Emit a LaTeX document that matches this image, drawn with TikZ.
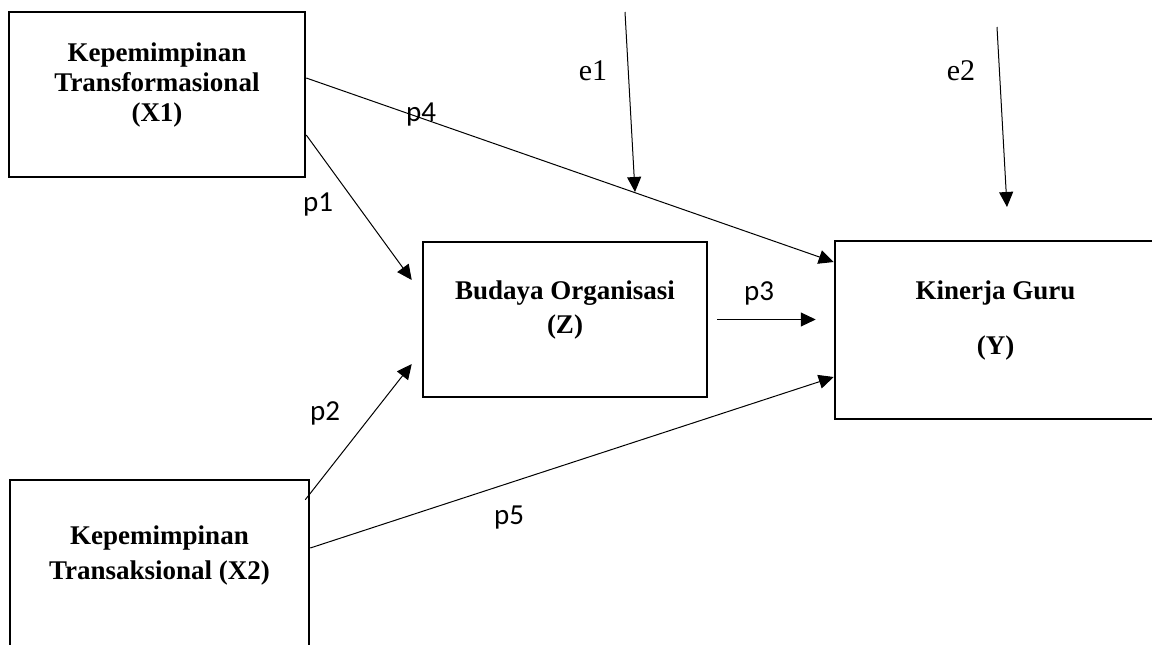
\documentclass[tikz,border=0pt]{standalone}
\usepackage{fontspec}
\setmainfont{Liberation Serif}
\newfontfamily\coeffont{Carlito}
\usetikzlibrary{arrows.meta}

\begin{document}
\begin{tikzpicture}[
		x=1pt, y=-1pt,
		varbox/.style={rectangle, draw, line width=2.5pt, inner sep=0pt},
		every label/.append style={align=center, font=\fontsize{27}{30}\selectfont\bfseries},
		pathline/.style={-{Triangle[length=15pt, width=14pt]}, line width=1pt},
		coef/.style={font=\coeffont\fontsize{29}{32}\selectfont},
		err/.style={font=\fontsize{30}{32}\selectfont}
	]
  \clip (0,0) rectangle (1152,645);
  \node (X1) [varbox, minimum width=296pt, minimum height=165pt,
    label={[yshift=9.5pt]center:Kepemimpinan\\Transformasional\\(X1)}] at (157, 94.5) {};
  \node (Z) [varbox, minimum width=284pt, minimum height=155pt,
    label={[yshift=9.5pt]center:Budaya Organisasi\\[4pt](Z)}] at (565, 319.5) {};
  \node (Y) [varbox, minimum width=321pt, minimum height=178pt,
    label={[yshift=9.5pt]center:Kinerja Guru\\[25pt](Y)}] at (995.5, 330) {};
  \node (X2) [varbox, minimum width=299pt, minimum height=180pt,
    label={[yshift=14.5pt]center:Kepemimpinan\\[5pt]Transaksional (X2)}] at (159.5, 570) {};
  \coordinate (e1src) at (625, 12);
  \coordinate (e1tip) at (635, 192);
  \coordinate (e2src) at (997, 27);
  \coordinate (e2tip) at (1007, 207);
  \draw [pathline] ([yshift=16.5pt]X1.east) -- ([yshift=68pt]Y.west);
  \draw [pathline] ([yshift=-40.5pt]X1.east) -- ([xshift=-10pt, yshift=39.5pt]Z.west);
  \draw [pathline] ([xshift=-5pt, yshift=-21pt]X2.north east) -- ([xshift=-10pt, yshift=-44.5pt]Z.west);
  \draw [pathline] ([yshift=22pt]X2.east) -- ([yshift=-47pt]Y.west);
  \draw [pathline] ([xshift=9pt]Z.east) -- ([xshift=-18pt]Y.west |- Z.east);
  \draw [pathline] (e1src) -- (e1tip);
  \draw [pathline] (e2src) -- (e2tip);
  \node (p1) [coef] at (318, 205) {p1};
  \node (p2) [coef] at (325, 413) {p2};
  \node (p3) [coef] at (759, 293) {p3};
  \node (p4) [coef] at (421, 115) {p4};
  \node (p5) [coef] at (509, 518) {p5};
  \node (e1) [err] at (593, 71) {e1};
  \node (e2) [err] at (961, 71) {e2};
\end{tikzpicture}
\end{document}
